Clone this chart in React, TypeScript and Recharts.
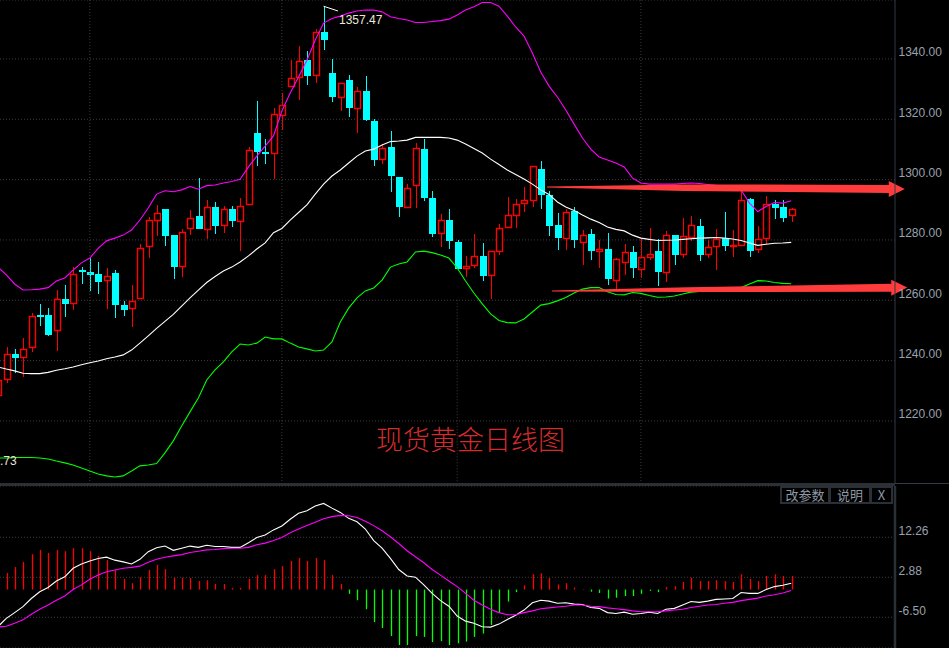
import React from "react";
import { ComposedChart, Bar, Line, XAxis, YAxis, CartesianGrid, ReferenceLine } from "recharts";

const opens = [
  1228.6, 1233.8, 1242.2, 1241.1, 1244.4, 1255.1, 1255.1, 1250.3, 1260.4, 1259.0,
  1270.0, 1269.4, 1268.7, 1266.6, 1269.0, 1258.4, 1257.3, 1260.6, 1277.9, 1286.5,
  1290.1, 1281.5, 1271.2, 1283.8, 1287.9, 1283.5, 1290.8, 1284.8, 1290.1, 1286.2,
  1291.8, 1315.4, 1309.1, 1308.9, 1321.5, 1331.0, 1334.1, 1339.7, 1334.6, 1348.9,
  1335.3, 1327.5, 1333.0, 1323.8, 1329.4, 1319.4, 1306.7, 1310.8, 1300.9, 1291.0,
  1298.1, 1310.1, 1293.9, 1282.2, 1286.6, 1279.3, 1270.6, 1271.6, 1274.7, 1268.3,
  1276.2, 1284.2, 1288.2, 1292.1, 1293.4, 1303.5, 1294.9, 1284.9, 1280.8, 1289.6,
  1279.4, 1282.0, 1276.4, 1277.0, 1266.8, 1272.8, 1276.0, 1270.5, 1274.4, 1276.3,
  1269.5, 1281.6, 1275.4, 1281.0, 1284.6, 1275.4, 1278.1, 1280.5, 1278.0, 1278.3,
  1293.6, 1276.9, 1280.5, 1291.9, 1290.9, 1288.4,
];
const closes = [
  1233.6, 1242.1, 1240.8, 1244.0, 1254.8, 1254.6, 1248.5, 1260.3, 1258.7, 1268.6,
  1269.4, 1268.4, 1266.0, 1267.9, 1258.4, 1256.8, 1259.9, 1277.2, 1286.5, 1288.8,
  1281.3, 1271.0, 1282.8, 1287.4, 1283.6, 1290.8, 1284.6, 1290.1, 1286.3, 1291.1,
  1309.8, 1309.1, 1308.6, 1321.6, 1324.6, 1333.6, 1339.2, 1334.3, 1348.8, 1346.3,
  1327.4, 1331.9, 1323.7, 1329.3, 1319.8, 1306.5, 1310.6, 1301.2, 1290.9, 1297.1,
  1310.4, 1293.9, 1282.0, 1286.5, 1279.6, 1270.4, 1271.2, 1274.6, 1268.0, 1276.2,
  1283.8, 1288.2, 1291.8, 1293.1, 1304.4, 1294.9, 1284.6, 1280.6, 1289.1, 1280.0,
  1281.8, 1276.3, 1276.9, 1267.0, 1273.7, 1276.0, 1270.7, 1274.2, 1275.5, 1269.4,
  1281.8, 1275.0, 1281.2, 1284.8, 1275.0, 1277.5, 1280.2, 1278.0, 1278.3, 1293.4,
  1276.3, 1280.2, 1291.8, 1290.6, 1287.3, 1290.1,
];
const highs = [
  1234.1, 1244.6, 1243.8, 1247.4, 1255.7, 1258.7, 1257.6, 1263.4, 1265.0, 1270.9,
  1270.9, 1274.0, 1272.7, 1270.7, 1269.9, 1259.7, 1265.0, 1278.6, 1287.5, 1291.5,
  1290.1, 1281.8, 1283.5, 1289.8, 1300.5, 1293.4, 1292.6, 1291.2, 1291.2, 1293.9,
  1310.9, 1326.1, 1313.5, 1323.7, 1328.7, 1339.6, 1344.3, 1342.6, 1349.9, 1357.47,
  1340.0, 1332.0, 1334.7, 1330.7, 1334.3, 1320.1, 1311.8, 1316.1, 1300.9, 1298.5,
  1312.1, 1313.5, 1296.2, 1288.6, 1290.3, 1280.0, 1274.7, 1282.0, 1279.0, 1276.3,
  1285.3, 1294.2, 1293.6, 1297.5, 1304.6, 1306.2, 1296.2, 1288.9, 1290.1, 1290.9,
  1283.3, 1283.6, 1280.0, 1282.3, 1274.0, 1278.6, 1278.0, 1280.6, 1283.9, 1280.3,
  1283.0, 1281.6, 1287.3, 1288.1, 1286.9, 1280.0, 1283.6, 1289.2, 1283.3, 1296.2,
  1293.8, 1284.6, 1294.5, 1293.4, 1293.2, 1290.5,
];
const lows = [
  1226.0, 1232.5, 1236.0, 1234.7, 1243.0, 1251.5, 1248.1, 1243.2, 1254.6, 1256.8,
  1265.4, 1263.1, 1262.1, 1257.1, 1254.1, 1254.8, 1251.1, 1260.6, 1274.0, 1281.3,
  1278.0, 1267.0, 1267.7, 1281.6, 1283.6, 1280.2, 1282.0, 1282.3, 1284.3, 1276.3,
  1291.8, 1304.5, 1305.2, 1300.2, 1316.4, 1330.7, 1326.4, 1331.4, 1332.0, 1343.0,
  1325.7, 1322.7, 1320.7, 1315.4, 1319.4, 1304.5, 1305.2, 1295.9, 1287.6, 1291.0,
  1290.6, 1292.8, 1281.0, 1277.6, 1277.0, 1270.4, 1267.7, 1270.7, 1266.4, 1260.4,
  1275.0, 1284.0, 1284.0, 1289.2, 1290.9, 1290.2, 1281.3, 1276.6, 1276.6, 1277.3,
  1271.7, 1273.3, 1270.7, 1265.0, 1263.7, 1268.4, 1267.4, 1267.4, 1273.3, 1264.7,
  1265.9, 1271.7, 1274.0, 1279.6, 1273.0, 1274.0, 1270.0, 1276.3, 1274.3, 1278.0,
  1274.3, 1275.7, 1278.6, 1286.9, 1285.9, 1285.9,
];
const bollUpper = [
  1271.0, 1268.4, 1265.4, 1263.4, 1263.5, 1263.7, 1264.2, 1266.4, 1267.4, 1270.0,
  1272.4, 1274.0, 1277.2, 1279.7, 1280.6, 1281.6, 1283.3, 1286.6, 1290.6, 1295.2,
  1296.3, 1296.0, 1296.6, 1297.7, 1296.8, 1298.0, 1298.2, 1298.9, 1299.4, 1300.1,
  1304.2, 1307.8, 1311.1, 1314.5, 1322.7, 1328.7, 1334.0, 1339.6, 1346.3, 1351.9,
  1353.4, 1354.2, 1355.2, 1355.9, 1356.2, 1356.2, 1355.6, 1354.0, 1353.4, 1352.9,
  1352.1, 1352.1, 1352.4, 1352.7, 1353.2, 1354.6, 1356.2, 1357.3, 1358.7, 1358.7,
  1357.5, 1354.2, 1350.6, 1347.6, 1342.0, 1335.7, 1331.0, 1327.4, 1323.1, 1318.4,
  1313.8, 1310.1, 1307.5, 1306.5, 1305.5, 1304.2, 1300.5, 1298.9, 1298.5, 1298.5,
  1298.5, 1298.5, 1298.7, 1298.9, 1298.7, 1298.4, 1298.1, 1297.9, 1297.2, 1296.6,
  1292.2, 1289.4, 1291.1, 1292.4, 1292.2, 1293.0,
];
const bollMiddle = [
  1237.9, 1237.2, 1236.6, 1235.8, 1235.7, 1235.7, 1236.1, 1236.8, 1237.3, 1237.9,
  1238.6, 1239.3, 1239.9, 1240.6, 1241.2, 1241.9, 1243.5, 1245.8, 1248.2, 1250.7,
  1253.0, 1255.3, 1258.1, 1260.8, 1263.4, 1265.9, 1267.9, 1269.7, 1271.0, 1272.7,
  1274.7, 1277.0, 1279.0, 1282.4, 1283.8, 1286.6, 1289.1, 1291.6, 1295.2, 1298.5,
  1301.2, 1303.2, 1305.5, 1307.8, 1309.5, 1310.1, 1311.5, 1312.6, 1312.8, 1313.1,
  1314.0, 1314.0, 1314.0, 1314.0, 1313.8, 1313.1, 1311.8, 1310.3, 1308.8, 1306.8,
  1305.0, 1303.2, 1301.7, 1300.2, 1298.5, 1296.6, 1295.1, 1292.6, 1290.9, 1289.8,
  1288.3, 1286.9, 1285.8, 1284.3, 1283.5, 1283.0, 1281.6, 1280.6, 1280.2, 1279.8,
  1279.9, 1280.0, 1280.2, 1280.4, 1280.6, 1280.7, 1280.8, 1280.6, 1280.3, 1279.8,
  1279.0, 1278.2, 1278.6, 1278.9, 1279.0, 1279.2,
];
const bollLower = [
  1207.7, 1207.7, 1207.9, 1207.9, 1207.9, 1207.7, 1207.4, 1206.7, 1206.1, 1205.4,
  1204.4, 1203.4, 1202.4, 1201.8, 1201.4, 1201.8, 1203.4, 1205.1, 1205.4, 1205.9,
  1209.4, 1213.4, 1218.3, 1223.0, 1227.6, 1233.6, 1236.9, 1239.6, 1242.9, 1245.5,
  1245.2, 1245.8, 1247.8, 1247.2, 1247.2, 1245.8, 1244.5, 1243.9, 1243.2, 1243.5,
  1246.2, 1252.8, 1257.4, 1260.8, 1263.1, 1264.1, 1266.7, 1271.0, 1272.0, 1272.7,
  1276.0, 1276.3, 1275.8, 1275.0, 1274.0, 1270.7, 1266.4, 1262.4, 1258.8, 1255.5,
  1253.3, 1252.6, 1252.5, 1253.8, 1256.1, 1258.4, 1258.9, 1259.8, 1260.9, 1262.4,
  1263.7, 1264.2, 1264.2, 1262.8, 1261.9, 1261.8, 1262.6, 1262.3, 1261.6, 1261.0,
  1261.1, 1261.4, 1262.1, 1262.7, 1262.9, 1263.1, 1263.2, 1263.4, 1263.6, 1264.2,
  1265.4, 1266.5, 1266.4, 1265.9, 1265.6, 1265.5,
];
const macdHist = [
  0.0, 3.9, 5.3, 6.5, 8.3, 9.3, 8.6, 9.3, 9.0, 9.7,
  9.7, 9.0, 7.9, 6.9, 4.6, 2.5, 1.5, 2.9, 4.6, 5.8,
  4.8, 2.8, 2.8, 2.7, 2.0, 2.2, 1.3, 1.3, 0.4, 0.4,
  2.5, 3.4, 3.4, 4.8, 5.5, 6.7, 7.4, 6.7, 7.4, 6.9,
  3.4, 1.3, -1.0, -2.5, -4.6, -7.6, -9.0, -10.9, -13.0, -13.0,
  -10.9, -11.1, -12.3, -12.1, -13.0, -12.6, -12.2, -11.1, -10.3, -8.3,
  -5.4, -2.8, -0.6, 1.0, 3.6, 3.8, 2.7, 1.2, 1.5, 0.5,
  0.1, -0.5, -0.8, -2.1, -1.9, -1.5, -1.5, -1.0, -0.3, -0.6,
  0.6, 0.8, 1.8, 2.8, 2.0, 2.0, 2.2, 2.0, 1.8, 3.6,
  2.5, 2.0, 3.2, 3.6, 3.2, 3.2,
];
const macdDif = [
  -8.7, -6.75, -5.4, -4.0, -2.1, -0.5, 0.5, 2.0, 3.0, 5.0,
  6.0, 6.7, 7.3, 7.6, 6.9, 6.5, 6.0, 7.1, 8.9, 9.8,
  10.2, 9.2, 9.7, 10.2, 9.9, 10.4, 10.1, 10.1, 9.9, 9.9,
  11.0, 12.2, 12.8, 14.0, 14.9, 16.5, 17.9, 18.5, 19.6, 20.2,
  19.1, 18.1, 16.7, 15.9, 14.2, 11.5, 9.7, 7.3, 4.7, 3.2,
  2.9, 1.1, -0.9, -2.6, -3.9, -6.2, -7.4, -7.9, -8.7, -8.8,
  -8.1, -7.0, -6.0, -4.8, -3.1, -2.5, -2.7, -3.2, -3.1, -3.4,
  -3.5, -4.2, -4.4, -5.4, -5.6, -5.3, -5.8, -5.6, -5.3, -5.6,
  -4.6, -4.4, -3.6, -2.8, -3.0, -2.7, -2.3, -2.2, -2.1, -0.7,
  -0.9, -0.9, 0.0, 0.7, 1.0, 1.5,
];
const macdDea = [
  -8.8, -8.6, -7.9, -7.1, -5.8, -4.6, -3.6, -2.5, -1.5, 0.0,
  1.1, 2.4, 3.4, 4.2, 4.6, 5.0, 5.2, 5.5, 6.4, 7.1,
  7.6, 7.9, 8.2, 8.7, 9.0, 9.3, 9.4, 9.6, 9.7, 9.7,
  9.9, 10.5, 10.9, 11.5, 12.2, 13.3, 14.2, 15.0, 15.8, 16.6,
  17.1, 17.4, 17.3, 16.9, 16.0, 15.0, 13.8, 12.4, 10.8, 9.1,
  7.7, 6.3, 4.7, 3.4, 2.0, 0.7, -0.9, -2.5, -3.6, -4.6,
  -5.4, -5.9, -5.9, -5.4, -5.0, -4.5, -4.3, -4.1, -3.9, -3.6,
  -3.6, -3.9, -4.0, -4.3, -4.5, -4.7, -5.0, -5.2, -5.2, -5.2,
  -5.0, -4.8, -4.6, -4.2, -3.9, -3.6, -3.5, -3.2, -3.0, -2.6,
  -2.3, -2.0, -1.5, -1.2, -0.8, -0.2,
];
const priceTicks = [1340, 1320, 1300, 1280, 1260, 1240, 1220];
const macdTicks = [12.26, 2.88, -6.5];
const monthIndexes = [11, 34, 77];
const lateMonthIndex = 55;
const xDomain = [0.2455, 107.43];
const priceDomain = [1199.1, 1359.54];
const macdDomain = [-13.7, 24.29];
const buttons = ["改参数", "说明", "X"];

const RED = "#ff0000";
const CYAN = "#00ffff";
const GRID = "#3c3c3c";
const AXIS_TEXT = "#98a2ad";
const ARROW = "#ff3b3b";
const LATIN = "'Liberation Sans', Arial, sans-serif";
const CJK = "'Noto Sans CJK SC', sans-serif";

const priceRows = opens.map((o, i) => ({
  i,
  o,
  c: closes[i],
  h: highs[i],
  l: lows[i],
  range: [lows[i], highs[i]],
  upper: bollUpper[i],
  middle: bollMiddle[i],
  lower: bollLower[i],
}));
const macdRows = macdHist.map((hist, i) => ({ i, hist, dif: macdDif[i], dea: macdDea[i] }));

function Candle(props: any) {
  const { x, y, width, height, payload } = props;
  if (payload == null || !(height > 0)) return null;
  const k = height / (payload.h - payload.l);
  const cx = Math.round(x + width / 2) + 0.5;
  const top = Math.round(y + (payload.h - Math.max(payload.o, payload.c)) * k);
  const bot = Math.round(y + (payload.h - Math.min(payload.o, payload.c)) * k);
  const up = payload.c >= payload.o;
  const color = up ? RED : CYAN;
  return (
    <g>
      <line x1={cx} x2={cx} y1={y} y2={y + height} stroke={color} strokeWidth={1.1} shapeRendering="crispEdges" />
      {up ? (
        <rect x={cx - 3} y={top + 0.5} width={6} height={Math.max(bot - top, 1)} fill="#000" stroke={color} strokeWidth={1.4} />
      ) : (
        <rect x={cx - 3.5} y={top} width={7} height={Math.max(bot - top, 1)} fill={color} shapeRendering="crispEdges" />
      )}
    </g>
  );
}

function HistBar(props: any) {
  const { x, y, width, height, payload } = props;
  if (payload == null || !height) return null;
  const cx = Math.round(x + width / 2);
  const y0 = Math.min(y, y + height);
  return <rect x={cx - 0.15} y={y0} width={1.3} height={Math.abs(height)} fill={payload.hist >= 0 ? RED : "#00ff00"} />;
}

function axisTick(fmt: (v: number) => string) {
  return (p: any) => (
    <text x={p.x + 1.5} y={p.y - 2.6} fill={AXIS_TEXT} fontSize={12} fontFamily={LATIN}>
      {fmt(p.payload.value)}
    </text>
  );
}

function taperedArrow(midT: number, midHalf: number) {
  return (p: any) => {
    const { x1, y1, x2, y2 } = p;
    const headLen = 16;
    const headHalf = 8;
    const shaftHalf = 4;
    const tailHalf = 0.5;
    const bx = x2 - headLen;
    const by = y2 + (y1 - y2) * (headLen / (x2 - x1));
    const mx = x1 + (bx - x1) * midT;
    const my = y1 + (by - y1) * midT;
    const pts = [
      [x1, y1 - tailHalf],
      [mx, my - midHalf],
      [bx, by - shaftHalf],
      [bx, by - headHalf],
      [x2, y2],
      [bx, by + headHalf],
      [bx, by + shaftHalf],
      [mx, my + midHalf],
      [x1, y1 + tailHalf],
    ];
    return <polygon points={pts.map((q) => q.join(",")).join(" ")} fill={ARROW} />;
  };
}

function peakCallout(p: any) {
  return (
    <g>
      <line x1={p.x1} y1={p.y1} x2={p.x2} y2={p.y2} stroke="#ffffff" strokeWidth={1} />
      <text x={p.x2 + 1} y={p.y2 + 13} fill="#ece8d8" fontSize={12} fontFamily={LATIN}>
        1357.47
      </text>
    </g>
  );
}

const dotted = "1 2";
const lineLook = { type: "linear" as const, strokeWidth: 1.1, dot: false, isAnimationActive: false };

export default function App() {
  return (
    <div style={{ position: "absolute", left: 0, top: 0, width: 949, height: 648, background: "#000", overflow: "hidden" }}>
      <div style={{ position: "absolute", left: 0, top: 0 }}>
        <ComposedChart width={949} height={484} data={priceRows} margin={{ top: 0, right: 0, bottom: 0, left: 0 }}>
          <CartesianGrid horizontal vertical={false} stroke={GRID} strokeDasharray={dotted} />
          <XAxis dataKey="i" type="number" domain={xDomain} allowDataOverflow hide />
          <YAxis
            orientation="right"
            width={54}
            domain={priceDomain}
            allowDataOverflow
            ticks={priceTicks}
            interval={0}
            tickSize={0}
            tickLine={false}
            axisLine={{ stroke: "#333a42" }}
            tick={axisTick((v) => v.toFixed(2))}
          />
          {monthIndexes.map((m) => (
            <ReferenceLine key={m} x={m} stroke={GRID} strokeDasharray={dotted} />
          ))}
          <ReferenceLine
            segment={[
              { x: lateMonthIndex, y: 1260 },
              { x: lateMonthIndex, y: 1199.1 },
            ]}
            stroke={GRID}
            strokeDasharray={dotted}
          />
          <Bar dataKey="range" barSize={7} shape={Candle} isAnimationActive={false} />
          <Line dataKey="upper" stroke="#ff00ff" {...lineLook} />
          <Line dataKey="middle" stroke="#ffffff" {...lineLook} />
          <Line dataKey="lower" stroke="#00ff00" {...lineLook} />
          <ReferenceLine
            ifOverflow="visible"
            segment={[
              { x: 39, y: 1357.47 },
              { x: 40.72, y: 1355.9 },
            ]}
            shape={peakCallout}
          />
          <ReferenceLine
            ifOverflow="visible"
            segment={[
              { x: 65.75, y: 1297.55 },
              { x: 108.6, y: 1296.9 },
            ]}
            shape={taperedArrow(0.4, 3.3)}
          />
          <ReferenceLine
            ifOverflow="visible"
            segment={[
              { x: 66.35, y: 1263.1 },
              { x: 108.9, y: 1264.2 },
            ]}
            shape={taperedArrow(0.4, 2.3)}
          />
        </ComposedChart>
      </div>

      <div style={{ position: "absolute", left: 0, top: 454, color: "#e8e4d8", font: `12px/14px ${LATIN}` }}>.73</div>
      <div style={{ position: "absolute", left: 376, top: 424, width: 200, color: "#d42c2c", font: `300 27px/30px ${CJK}`, whiteSpace: "nowrap" }}>现货黄金日线图</div>

      <div style={{ position: "absolute", left: 0, top: 483, width: 895, height: 3, background: "#2b2f36" }} />
      <div style={{ position: "absolute", left: 895, top: 483, width: 54, height: 1, background: "#333a42" }} />

      <div style={{ position: "absolute", left: 0, top: 486 }}>
        <ComposedChart width={949} height={162} data={macdRows} margin={{ top: 0, right: 0, bottom: 0, left: 0 }}>
          <CartesianGrid horizontal vertical={false} stroke={GRID} strokeDasharray={dotted} />
          <XAxis dataKey="i" type="number" domain={xDomain} allowDataOverflow hide />
          <YAxis
            orientation="right"
            width={54}
            domain={macdDomain}
            allowDataOverflow
            ticks={macdTicks}
            interval={0}
            tickSize={0}
            tickLine={false}
            axisLine={{ stroke: "#2b2f36", strokeWidth: 2.5 }}
            tick={axisTick((v) => v.toFixed(2))}
          />
          <Bar dataKey="hist" barSize={1} shape={HistBar} isAnimationActive={false} />
          <Line dataKey="dif" stroke="#ffffff" {...lineLook} />
          <Line dataKey="dea" stroke="#ff00ff" {...lineLook} />
        </ComposedChart>
      </div>

      {buttons.map((b, n) => {
        const lefts = [780, 829, 870];
        const widths = [50, 42, 23];
        return (
          <div
            key={b}
            style={{
              position: "absolute",
              left: lefts[n],
              top: 486,
              width: widths[n],
              height: 18,
              boxSizing: "border-box",
              border: "2px solid #2b2f36",
              color: "#8d97a5",
              textAlign: "center",
              font: `13px/14px ${CJK}`,
              background: "#000",
            }}
          >
            {b}
          </div>
        );
      })}
    </div>
  );
}
